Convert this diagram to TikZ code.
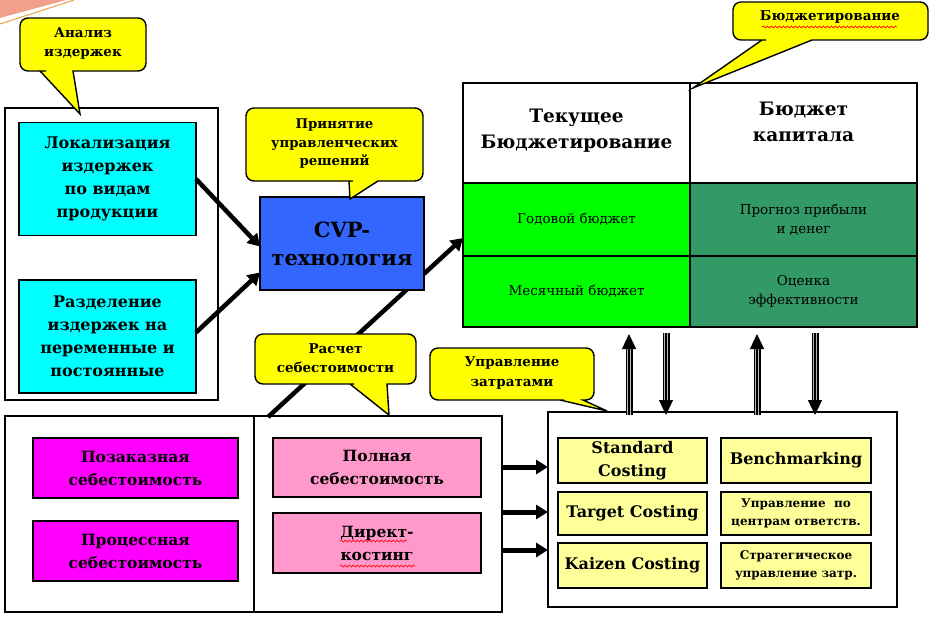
\documentclass[tikz,border=0pt]{standalone}
\usepackage{fontspec}
\setmainfont{DejaVu Serif}
\usetikzlibrary{arrows.meta,decorations.pathmorphing,calc}
\definecolor{cyanbox}{HTML}{00FFFF}
\definecolor{cvpblue}{HTML}{3366FF}
\definecolor{brightgreen}{HTML}{00FF00}
\definecolor{darkgreen}{HTML}{339966}
\definecolor{magentabox}{HTML}{FF00FF}
\definecolor{pinkbox}{HTML}{FF99CC}
\definecolor{lightyellow}{HTML}{FFFF99}
\definecolor{calloutyellow}{HTML}{FFFF00}
\definecolor{salmon}{HTML}{F2A08C}
\definecolor{decoorange}{HTML}{F0A040}
\begin{document}
\begin{tikzpicture}[x=1pt,y=-1pt,
  box/.style={draw=black,line width=1.5pt,inner sep=0pt,outer sep=0pt,align=center},
  framebox/.style={draw=black,line width=1.5pt,inner sep=0pt,outer sep=0pt},
  callout/.style={draw=black,line width=1.4pt,fill=calloutyellow},
  ctext/.style={align=center,inner sep=0pt,font=\fontsize{13.5}{19.5}\selectfont\bfseries},
  bigtext/.style={font=\fontsize{16}{23}\selectfont\bfseries},
  pinktext/.style={font=\fontsize{15.5}{23}\selectfont\bfseries},
  celltext/.style={font=\fontsize{13.5}{19}\selectfont},
  hdrtext/.style={font=\fontsize{18.5}{26}\selectfont\bfseries},
  costtext/.style={font=\fontsize{16}{23}\selectfont\bfseries},
  smalltext/.style={font=\fontsize{12}{18}\selectfont\bfseries},
  bigarrow/.style={line width=4.5pt,-{Triangle[length=12pt,width=14pt]}},
  triline/.style={double=gray!55,double distance=3.8pt,line width=1.6pt},
  trihead/.style={line width=1.2pt,-{Triangle[length=15pt,width=14pt]}},
  spell/.style={red,line width=0.7pt,decorate,decoration={snake,amplitude=1pt,segment length=4pt}}
]
\useasboundingbox (0,0) rectangle (929,618);
\fill[white] (0,0) rectangle (929,618);
% corner decoration
\fill[salmon] (0,0) -- (66,0) -- (0,18) -- cycle;
\draw[decoorange,line width=1pt] (0,24) -- (74,0);

% left top frame and cyan boxes
\node[framebox,minimum width=213pt,minimum height=292pt] (ltf) at (111.5,254) {};
\node[box,fill=cyanbox,minimum width=177pt,minimum height=113pt,bigtext] (lok) at (107.5,179) {Локализация\\издержек\\по видам\\продукции};
\node[box,fill=cyanbox,minimum width=177pt,minimum height=113pt,bigtext] (raz) at (107.5,336.5) {Разделение\\издержек на\\переменные и\\постоянные};

% bottom left frame
\node[framebox,minimum width=497pt,minimum height=196pt] (blf) at (253.5,514) {};
\draw[line width=1.5pt] (blf.north -| 254,0) -- (blf.south -| 254,0);
\node[box,fill=magentabox,minimum width=205pt,minimum height=60pt,pinktext] (poz) at (135.5,468) {Позаказная\\себестоимость};
\node[box,fill=magentabox,minimum width=205pt,minimum height=60pt,pinktext] (proc) at (135.5,551) {Процессная\\себестоимость};
\node[box,fill=pinkbox,minimum width=208pt,minimum height=59pt,pinktext] (poln) at (377,467.5) {Полная\\себестоимость};
\node[box,fill=pinkbox,minimum width=208pt,minimum height=60pt,pinktext] (dir) at (377,543) {Директ-\\костинг};
\draw[spell] (340,541) -- (407,541);
\draw[spell] (340,566) -- (415,566);

% arrow from bottom to budget (behind CVP)
\coordinate (a3s) at (268,417);

% budget table
\node[box,minimum width=227pt,minimum height=100pt] (hdrL) at (576.5,133) {};
\node[box,minimum width=227pt,minimum height=100pt] (hdrR) at (803.5,133) {};
\node[box,fill=brightgreen,minimum width=227pt,minimum height=73pt,celltext] (gy) at (576.5,219.5) {Годовой\ бюджет};
\node[box,fill=brightgreen,minimum width=227pt,minimum height=71pt,celltext] (gm) at (576.5,291.5) {Месячный\ бюджет};
\node[box,fill=darkgreen,minimum width=227pt,minimum height=73pt,celltext] (dp) at (803.5,219.5) {Прогноз\ прибыли\\и денег};
\node[box,fill=darkgreen,minimum width=227pt,minimum height=71pt,celltext] (de) at (803.5,291.5) {Оценка\\эффективности};
\node[hdrtext,align=center,inner sep=0pt] (hdrLt) at (576.5,131) {Текущее\\Бюджетирование};
\node[hdrtext,align=center,inner sep=0pt] (hdrRt) at (803.5,122) {Бюджет\\капитала};
\draw[line width=2.6pt] (hdrL.north east) -- (gm.south east);

\draw[bigarrow] (a3s) -- ($(gy.west)+(0,18.5)$);

% CVP
\node[box,fill=cvpblue,minimum width=164pt,minimum height=93pt,font=\fontsize{21}{28}\selectfont\bfseries] (cvp) at (342,243.5) {CVP-\\технология};
\draw[bigarrow] (lok.east) -- ($(cvp.west)+(0,3)$);
\draw[bigarrow] ($(raz.east)+(0,-4)$) -- ($(cvp.west)+(0,29)$);

% cost management frame
\node[framebox,minimum width=349pt,minimum height=195pt] (brf) at (722.5,509.5) {};
\node[box,fill=lightyellow,minimum width=149pt,minimum height=45pt,costtext] (std) at (632.5,460.5) {Standard\\Costing};
\node[box,fill=lightyellow,minimum width=149pt,minimum height=43pt,costtext] (tgt) at (632.5,513.5) {Target Costing};
\node[box,fill=lightyellow,minimum width=149pt,minimum height=45pt,costtext] (kai) at (632.5,565.5) {Kaizen Costing};
\node[box,fill=lightyellow,minimum width=150pt,minimum height=45pt,costtext] (bm) at (796,460.5) {Benchmarking};
\node[box,fill=lightyellow,minimum width=150pt,minimum height=43pt,smalltext] (resp) at (796,513.5) {Управление\ \ по\\центрам ответств.};
\node[box,fill=lightyellow,minimum width=150pt,minimum height=45pt,smalltext] (strat) at (796,565.5) {Стратегическое\\управление затр.};

% arrows from costing to cost management
\draw[bigarrow,line width=5pt] (blf.east |- 0,467) -- (brf.west |- 0,467);
\draw[bigarrow,line width=5pt] (blf.east |- 0,512) -- (brf.west |- 0,512);
\draw[bigarrow,line width=5pt] (blf.east |- 0,550) -- (brf.west |- 0,550);

% triple-line arrows
\coordinate (u1b) at (629,415); \coordinate (u1t) at (629,334);
\coordinate (d1t) at (666,333); \coordinate (d1b) at (666,415);
\coordinate (u2b) at (757,415); \coordinate (u2t) at (757,334);
\coordinate (d2t) at (815,333); \coordinate (d2b) at (815,415);
\foreach \s/\e in {u1b/u1t,d1t/d1b,u2b/u2t,d2t/d2b}{
  \draw[triline,shorten >=10pt] (\s) -- (\e);
  \draw[trihead] (\s) -- (\e);
}

% callouts
\draw[callout] (38,71) -- (40,71) -- (80,114) -- (73,71) -- (75,71) [rounded corners=8pt] -- (146,71) -- (146,18) -- (20,18) -- (20,71) -- cycle;
\node[ctext] (c1) at (83,43.5) {Анализ\\издержек};

\draw[callout] (345,181) -- (349,181) -- (350,199) -- (378,181) -- (382,181) [rounded corners=8pt] -- (423,181) -- (423,108) -- (246,108) -- (246,181) -- cycle;
\node[ctext,font=\fontsize{13.3}{18.5}\selectfont\bfseries] (c2) at (334.5,144) {Принятие\\управленческих\\решений};

\draw[callout] (758,40) -- (762,40) -- (693,88) -- (812,40) -- (816,40) [rounded corners=8pt] -- (928,40) -- (928,2) -- (733,2) -- (733,40) -- cycle;
\node[ctext] (c3) at (830,17) {Бюджетирование};
\draw[spell] (762,27) -- (897,27);

\draw[callout] (346,384) -- (350,384) -- (389,415) -- (387,384) -- (391,384) [rounded corners=8pt] -- (416,384) -- (416,334) -- (255,334) -- (255,384) -- cycle;
\node[ctext] (c4) at (335.5,358) {Расчет\\себестоимости};

\draw[callout] (556,400) -- (560,400) -- (607,411) -- (583,400) -- (586,400) [rounded corners=8pt] -- (594,400) -- (594,348) -- (430,348) -- (430,400) -- cycle;
\node[ctext] (c5) at (512,373) {Управление\\затратами};
\end{tikzpicture}
\end{document}
